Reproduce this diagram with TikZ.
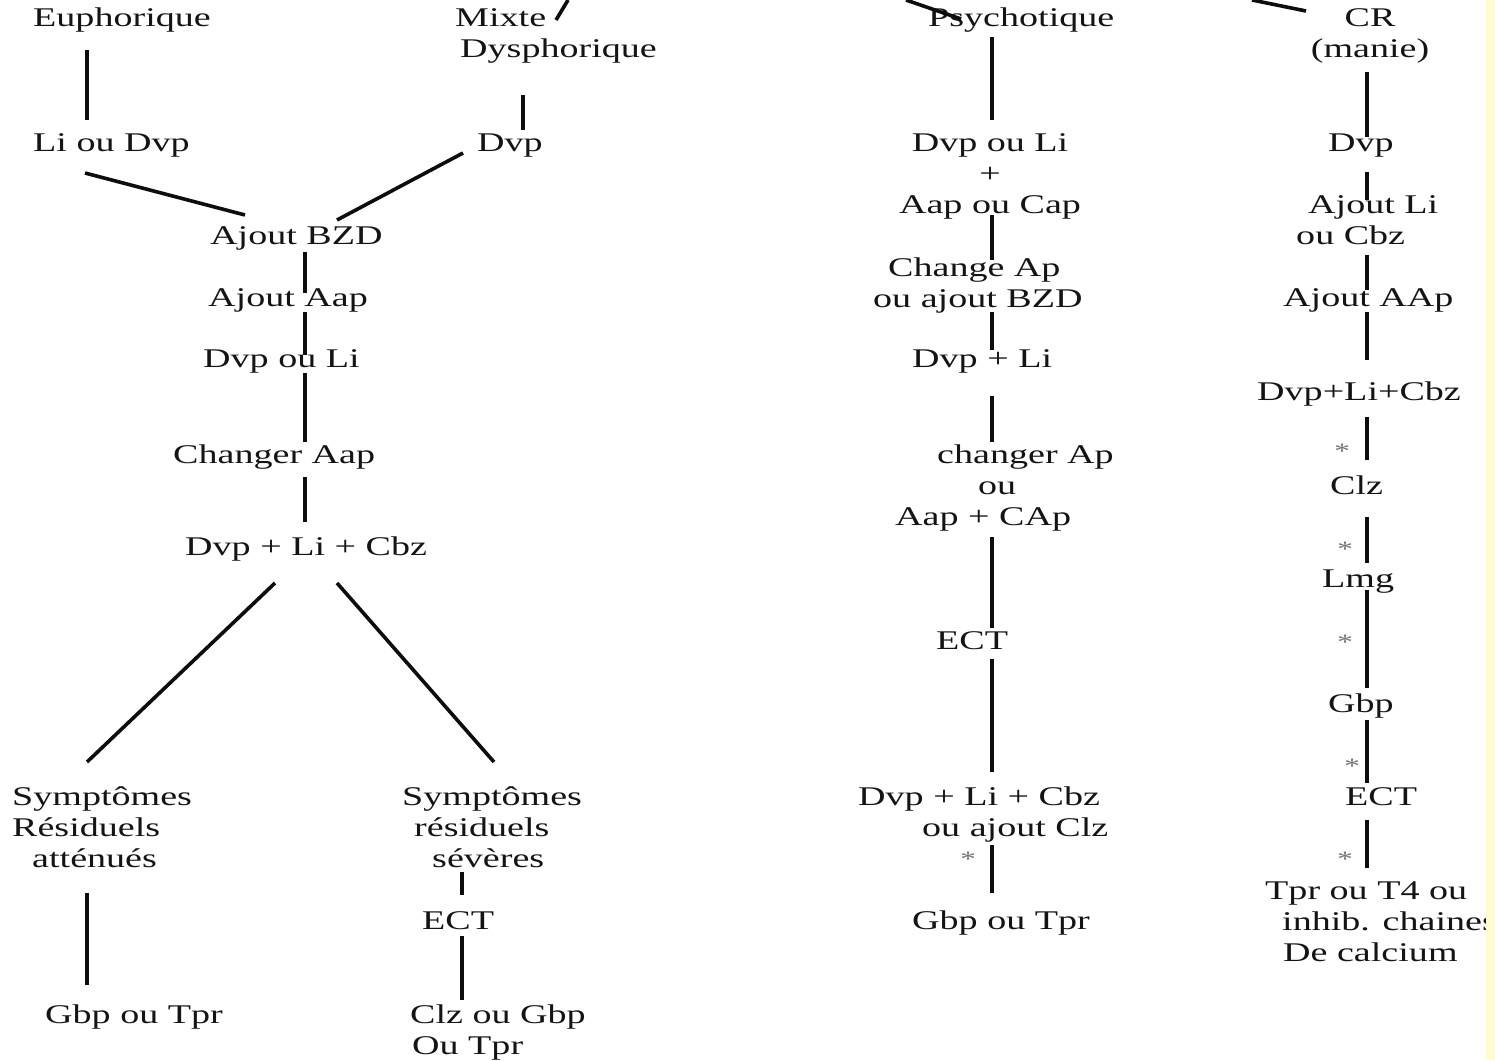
\documentclass[tikz,border=0pt]{standalone}
\usepackage{fontspec}
\setmainfont{Liberation Serif}
\usepackage{graphicx}
\newcommand{\sx}[1]{\scalebox{1.41}[1]{#1}}
\definecolor{stripyellow}{RGB}{255,252,208}
\begin{document}
\begin{tikzpicture}[x=1pt,y=-1pt,
  lbl/.style={inner sep=0pt, font=\fontsize{27}{31}\selectfont, text=black!92},
  starlbl/.style={inner sep=0pt, font=\fontsize{22}{24}\selectfont, text=black!55, anchor=base},
  ln/.style={line width=3.6pt, black!95}]
\useasboundingbox (0,0) rectangle (1495,1060);
\fill[white] (0,0) rectangle (1495,1060);

% ---------- column A ----------
\node[lbl, anchor=base west] (eup) at (33,26) {\sx{Euphorique}};
\node[lbl, anchor=base west] (liouDvp) at (33,151) {\sx{Li ou Dvp}};
\node[lbl, anchor=base west, align=left] (mixte) at (455,57) {\sx{Mixte}\\\hspace*{5pt}\sx{Dysphorique}};
\node[lbl, anchor=base west] (dvpA) at (477,151) {\sx{Dvp}};
\node[lbl, anchor=base west] (bzd) at (210,244) {\sx{Ajout BZD}};
\node[lbl, anchor=base west] (aap) at (208,306) {\sx{Ajout Aap}};
\node[lbl, anchor=base west] (dvpouli) at (203,367) {\sx{Dvp ou Li}};
\node[lbl, anchor=base west] (chaap) at (173,463) {\sx{Changer Aap}};
\node[lbl, anchor=base west] (dlcA) at (185,555) {\sx{Dvp + Li + Cbz}};
\node[lbl, anchor=base west, align=left] (sym1) at (12,867) {\sx{Symptômes}\\\sx{Résiduels}\\\hspace*{20pt}\sx{atténués}};
\node[lbl, anchor=base west] (gbp1) at (45,1023) {\sx{Gbp ou Tpr}};
\node[lbl, anchor=base west, align=left] (sym2) at (402,867) {\sx{Symptômes}\\\hspace*{12pt}\sx{résiduels}\\\hspace*{30pt}\sx{sévères}};
\node[lbl, anchor=base west] (ect1) at (422,929) {\sx{ECT}};
\node[lbl, anchor=base west, align=left] (clz1) at (410,1054) {\sx{Clz ou Gbp}\\\hspace*{2pt}\sx{Ou Tpr}};

% ---------- column C ----------
\node[lbl, anchor=base west] (psy) at (928,26) {\sx{Psychotique}};
\node[lbl, anchor=base, align=center] (dvpliP) at (990,213) {\sx{Dvp ou Li}\\\sx{+}\\\sx{Aap ou Cap}};
\node[lbl, anchor=base west, align=left] (chap) at (873,307) {\hspace*{15pt}\sx{Change Ap}\\\sx{ou ajout BZD}};
\node[lbl, anchor=base west] (dvpliC) at (912,367) {\sx{Dvp + Li}};
\node[lbl, anchor=base west, align=left] (chap2) at (895,525) {\hspace*{42pt}\sx{changer Ap}\\\hspace*{83pt}\sx{ou}\\\sx{Aap + CAp}};
\node[lbl, anchor=base west] (ect2) at (936,649) {\sx{ECT}};
\node[lbl, anchor=base west, align=left] (dlcC) at (858,836) {\sx{Dvp + Li + Cbz}\\\hspace*{64pt}\sx{ou ajout Clz}};
\node[starlbl] (starC) at (968,866) {\sx{*}};
\node[lbl, anchor=base west] (gbp2) at (912,929) {\sx{Gbp ou Tpr}};

% ---------- column D ----------
\node[lbl, anchor=base, align=center] (cr) at (1370,57) {\sx{CR}\\\sx{(manie)}};
\node[lbl, anchor=base west] (dvpD) at (1328,151) {\sx{Dvp}};
\node[lbl, anchor=base west, align=left] (ajli) at (1296,244) {\hspace*{12pt}\sx{Ajout Li}\\\sx{ou Cbz}};
\node[lbl, anchor=base west] (ajaap) at (1283,306) {\sx{Ajout AAp}};
\node[lbl, anchor=base west] (dlcD) at (1257,400) {\sx{Dvp+Li+Cbz}};
\node[starlbl] (starD1) at (1342,458) {\sx{*}};
\node[lbl, anchor=base west] (clzD) at (1330,494) {\sx{Clz}};
\node[starlbl] (starD2) at (1345,556) {\sx{*}};
\node[lbl, anchor=base west] (lmg) at (1322,587) {\sx{Lmg}};
\node[starlbl] (starD3) at (1345,649) {\sx{*}};
\node[lbl, anchor=base west] (gbpD) at (1328,712) {\sx{Gbp}};
\node[starlbl] (starD4) at (1352,773) {\sx{*}};
\node[lbl, anchor=base west] (ectD) at (1345,805) {\sx{ECT}};
\node[starlbl] (starD5) at (1345,866) {\sx{*}};
\node[lbl, anchor=base west, align=left] (tpr) at (1265,961) {\sx{Tpr ou T4 ou}\\\hspace*{17pt}\sx{inhib. chaines}\\\hspace*{18pt}\sx{De calcium}};

% ---------- connector end points ----------
\coordinate (topM) at (568,0);   \coordinate (mixTop) at (556,20);
\coordinate (topP) at (906,0);   \coordinate (psyTop) at (961,19);
\coordinate (topR) at (1252,0);  \coordinate (crTop) at (1306,11);

\coordinate (a1) at (87,50);   \coordinate (a2) at (87,120);
\coordinate (a3) at (85,173);  \coordinate (a4) at (245,215);
\coordinate (a5) at (523,95);  \coordinate (a6) at (523,130);
\coordinate (a7) at (463,153); \coordinate (a8) at (337,220);
\coordinate (s1) at (305,252); \coordinate (s2) at (305,293);
\coordinate (s3) at (305,312); \coordinate (s4) at (305,355);
\coordinate (s5) at (305,373); \coordinate (s6) at (305,442);
\coordinate (s7) at (305,477); \coordinate (s8) at (305,522);
\coordinate (b1) at (275,583); \coordinate (b2) at (87,762);
\coordinate (b3) at (337,583); \coordinate (b4) at (494,762);
\coordinate (b5) at (87,893);  \coordinate (b6) at (87,985);
\coordinate (b7) at (462,872); \coordinate (b8) at (462,895);
\coordinate (b9) at (462,936); \coordinate (b10) at (462,1000);

\coordinate (c1) at (992,37);  \coordinate (c2) at (992,120);
\coordinate (c3) at (992,215); \coordinate (c4) at (992,260);
\coordinate (c5) at (992,312); \coordinate (c6) at (992,350);
\coordinate (c7) at (992,396); \coordinate (c8) at (992,442);
\coordinate (c9) at (992,537); \coordinate (c10) at (992,628);
\coordinate (c11) at (992,659); \coordinate (c12) at (992,772);
\coordinate (c13) at (992,845); \coordinate (c14) at (992,893);

\coordinate (d1) at (1367,72);  \coordinate (d2) at (1367,137);
\coordinate (d3) at (1367,172); \coordinate (d4) at (1367,200);
\coordinate (d5) at (1367,255); \coordinate (d6) at (1367,290);
\coordinate (d7) at (1367,312); \coordinate (d8) at (1367,360);
\coordinate (d9) at (1367,417); \coordinate (d10) at (1367,460);
\coordinate (d11) at (1367,517); \coordinate (d12) at (1367,563);
\coordinate (d13) at (1367,590); \coordinate (d14) at (1367,688);
\coordinate (d15) at (1367,720); \coordinate (d16) at (1367,783);
\coordinate (d17) at (1367,820); \coordinate (d18) at (1367,868);

% ---------- connectors ----------
\draw[ln] (topM) -- (mixTop);
\draw[ln] (topP) -- (psyTop);
\draw[ln] (topR) -- (crTop);
\foreach \p/\q in {a1/a2,a3/a4,a5/a6,a7/a8,s1/s2,s3/s4,s5/s6,s7/s8,
  b1/b2,b3/b4,b5/b6,b7/b8,b9/b10,
  c1/c2,c3/c4,c5/c6,c7/c8,c9/c10,c11/c12,c13/c14,
  d1/d2,d3/d4,d5/d6,d7/d8,d9/d10,d11/d12,d13/d14,d15/d16,d17/d18}
  \draw[ln] (\p) -- (\q);

% ---------- right strip ----------
\fill[stripyellow] (1486,0) rectangle (1495,1060);
\end{tikzpicture}
\end{document}
